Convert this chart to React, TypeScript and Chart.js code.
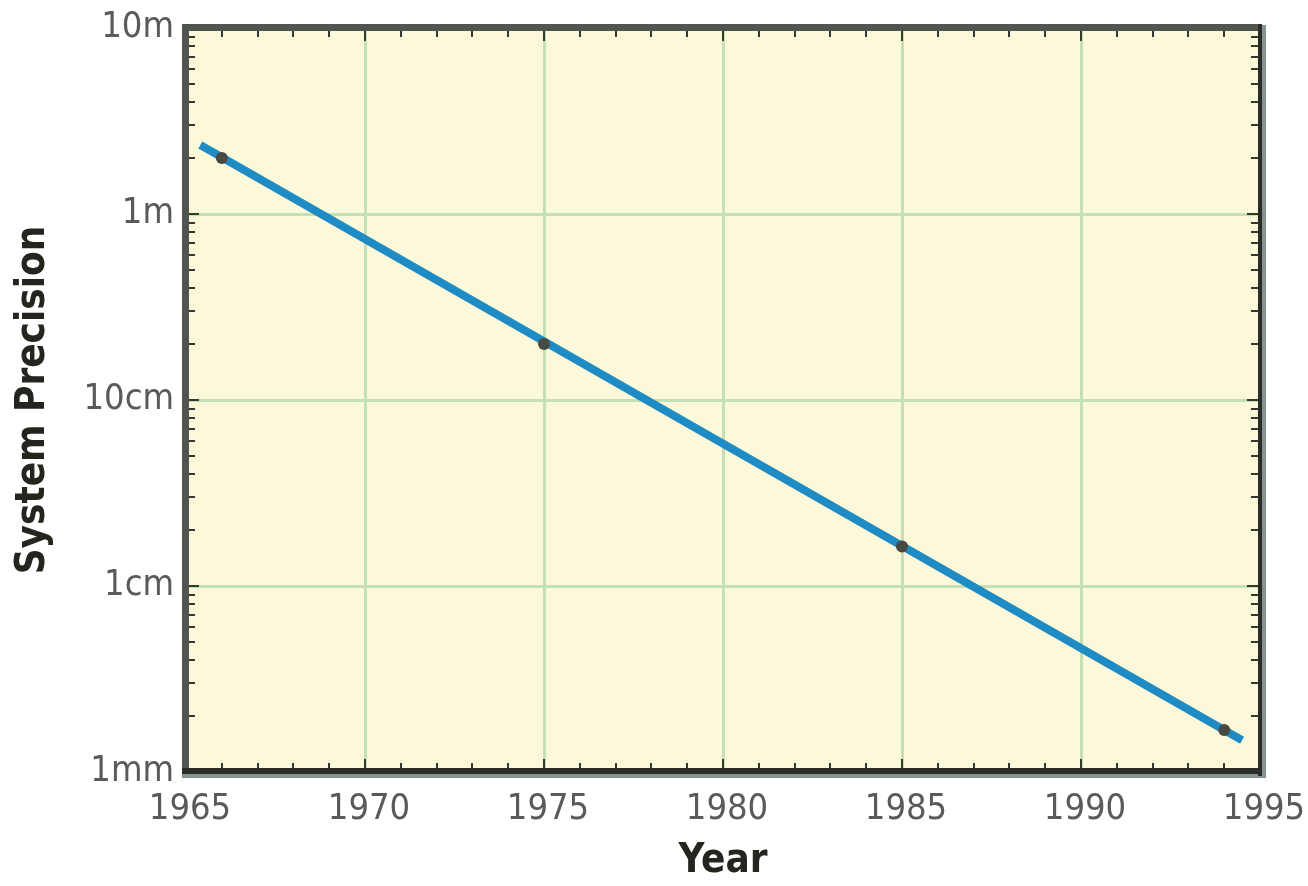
import React, { useEffect, useRef } from "react";
import { Chart, registerables } from "chart.js";

Chart.register(...registerables);

// ---- data ----
const lineYears = [1965.4, 1994.5];
const lineValues = [2.35, 0.00148];
const pointYears = [1966, 1975, 1985, 1994];
const pointValues = [2.0, 0.2, 0.0163, 0.00168];

const xTickValues = [1965, 1970, 1975, 1980, 1985, 1990, 1995];
const yTickValues = [0.001, 0.01, 0.1, 1, 10];
const yTickLabels = ["1mm", "1cm", "10cm", "1m", "10m"];

const NARROW = '"Liberation Sans Narrow", "Arial Narrow", "DejaVu Sans Condensed", sans-serif';

const framePlugin = {
  id: "framePlugin",
  beforeDraw(chart: any) {
    const { ctx, chartArea: a } = chart;
    ctx.save();
    ctx.fillStyle = "#fcf9da";
    ctx.fillRect(a.left, a.top, a.right - a.left, a.bottom - a.top);
    ctx.restore();
  },
  afterDraw(chart: any) {
    const { ctx, chartArea: a, scales } = chart;
    const xs = scales.x;
    const ys = scales.y;
    ctx.save();
    ctx.strokeStyle = "#353832";
    ctx.lineWidth = 2;
    ctx.beginPath();
    for (let yr = 1966; yr < 1995; yr++) {
      const px = Math.round(xs.getPixelForValue(yr));
      const len = yr % 5 === 0 ? 13 : 9;
      ctx.moveTo(px, a.top);
      ctx.lineTo(px, a.top + len);
      ctx.moveTo(px, a.bottom);
      ctx.lineTo(px, a.bottom - len);
    }
    for (let e = -3; e < 1; e++) {
      for (let m = 1; m < 10; m++) {
        const v = m * Math.pow(10, e);
        const py = Math.round(ys.getPixelForValue(v));
        const len = m === 1 ? 13 : 9;
        if (m === 1 && e === -3) continue;
        ctx.moveTo(a.left, py);
        ctx.lineTo(a.left + len, py);
        ctx.moveTo(a.right, py);
        ctx.lineTo(a.right - len, py);
      }
    }
    ctx.stroke();
    ctx.fillStyle = "#879390";
    ctx.fillRect(a.right + 2, a.top - 3, 4, a.bottom - a.top + 9);
    ctx.fillRect(a.left - 4, a.bottom + 2, a.right - a.left + 10, 4);
    ctx.fillStyle = "#51554f";
    ctx.fillRect(a.left - 4, a.top - 4, a.right - a.left + 6, 7);
    ctx.fillRect(a.left - 4, a.top - 4, 7, a.bottom - a.top + 6);
    ctx.fillStyle = "#2a2d27";
    ctx.fillRect(a.right - 2, a.top - 4, 4, a.bottom - a.top + 8);
    ctx.fillRect(a.left - 4, a.bottom - 4, a.right - a.left + 6, 6);
    ctx.restore();
  },
};

export default function App() {
  const ref = useRef<HTMLCanvasElement | null>(null);

  useEffect(() => {
    if (!ref.current) return;
    const chart = new Chart(ref.current, {
      type: "line",
      data: {
        datasets: [
          {
            type: "scatter",
            label: "points",
            data: pointYears.map((x, i) => ({ x, y: pointValues[i] })),
            pointRadius: 6,
            pointBackgroundColor: "#474a42",
            pointBorderWidth: 0,
            showLine: false,
            order: 0,
          } as any,
          {
            type: "line",
            label: "trend",
            data: lineYears.map((x, i) => ({ x, y: lineValues[i] })),
            borderColor: "#1f8bc5",
            borderWidth: 8,
            pointRadius: 0,
            borderCapStyle: "butt",
            fill: false,
            order: 1,
          } as any,
        ],
      },
      options: {
        animation: false,
        responsive: true,
        maintainAspectRatio: false,
        layout: { padding: { top: 28, right: 48, left: 0, bottom: 0 } },
        plugins: { legend: { display: false }, tooltip: { enabled: false } },
        scales: {
          x: {
            type: "linear",
            min: 1965,
            max: 1995,
            afterBuildTicks: (s: any) => {
              s.ticks = xTickValues.map((v) => ({ value: v }));
            },
            afterFit: (s: any) => {
              s.height = 114;
              s.paddingLeft = 0;
              s.paddingRight = 0;
            },
            ticks: {
              callback: (v: any) => String(v),
              color: "#585b58",
              font: { family: NARROW, size: 36 },
              padding: 16,
              labelOffset: 4,
              maxRotation: 0,
              autoSkip: false,
            },
            grid: { color: "#c6e0b6", lineWidth: 3, drawTicks: false },
            border: { display: false },
            title: {
              display: true,
              text: "Year",
              color: "#23251f",
              font: { family: NARROW, size: 40, weight: "bold", lineHeight: 1 },
              padding: { top: 0, bottom: 4 },
            },
          },
          y: {
            type: "logarithmic",
            min: 0.001,
            max: 10,
            afterBuildTicks: (s: any) => {
              s.ticks = yTickValues.map((v) => ({ value: v }));
            },
            afterFit: (s: any) => {
              s.width = 186;
              s.paddingTop = 0;
              s.paddingBottom = 0;
            },
            ticks: {
              callback: (v: any) => {
                const i = yTickValues.findIndex((t) => Math.abs(t - v) / t < 1e-6);
                return i >= 0 ? yTickLabels[i] : "";
              },
              color: "#585b58",
              font: { family: NARROW, size: 36 },
              padding: 12,
              autoSkip: false,
            },
            grid: { color: "#c6e0b6", lineWidth: 3, drawTicks: false },
            border: { display: false },
            title: {
              display: true,
              text: "System Precision",
              color: "#23251f",
              font: { family: NARROW, size: 40, weight: "bold", lineHeight: 1 },
              padding: { top: 14, bottom: 0 },
            },
          },
        },
      },
      plugins: [framePlugin],
    });
    return () => chart.destroy();
  }, []);

  return (
    <div style={{ position: "absolute", left: 0, top: 0, width: 1308, height: 886, background: "#ffffff" }}>
      <canvas ref={ref} />
    </div>
  );
}
